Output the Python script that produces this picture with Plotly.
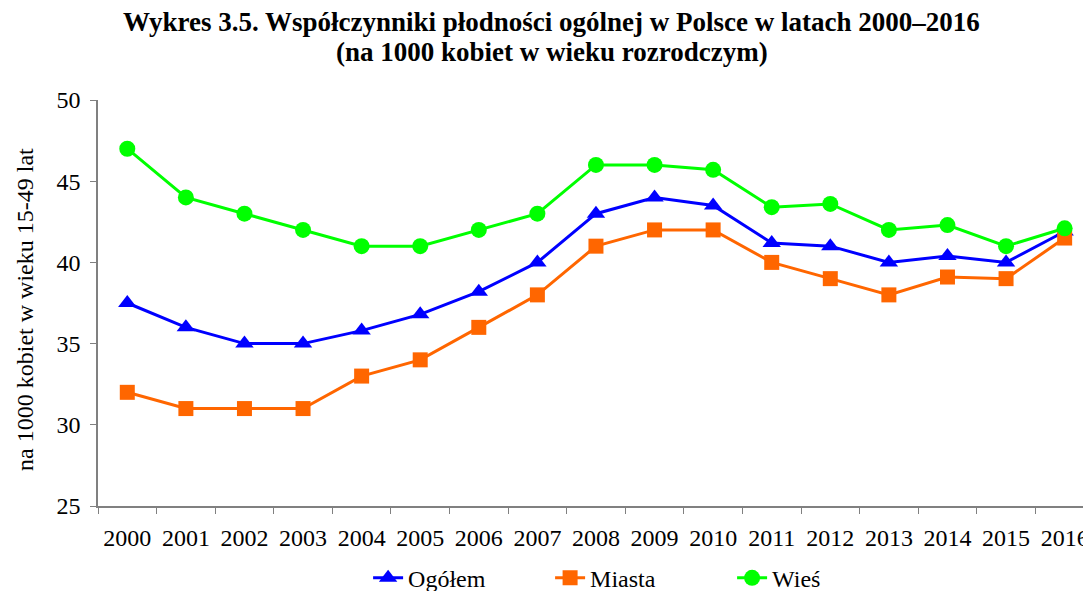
import plotly.graph_objects as go

# Dane
lata = [str(r) for r in range(2000, 2017)]
ogolem = [37.5, 36.0, 35.0, 35.0, 35.8, 36.8, 38.2, 40.0, 43.0, 44.0, 43.5, 41.2, 41.0, 40.0, 40.4, 40.0, 41.9]
miasta = [32.0, 31.0, 31.0, 31.0, 33.0, 34.0, 36.0, 38.0, 41.0, 42.0, 42.0, 40.0, 39.0, 38.0, 39.1, 39.0, 41.5]
wies = [47.0, 44.0, 43.0, 42.0, 41.0, 41.0, 42.0, 43.0, 46.0, 46.0, 45.7, 43.4, 43.6, 42.0, 42.3, 41.0, 42.1]

FONT = "Liberation Serif, Times New Roman, serif"

fig = go.Figure()
serie = [
    ("Ogółem", ogolem, "#0000FF", "triangle-up", 16),
    ("Miasta", miasta, "#FF6600", "square", 15),
    ("Wieś", wies, "#00FF00", "circle", 16),
]
for nazwa, wartosci, kolor, symbol, rozmiar in serie:
    fig.add_trace(go.Scatter(
        x=lata, y=wartosci, name=nazwa, mode="lines+markers",
        line=dict(color=kolor, width=3),
        marker=dict(color=kolor, symbol=symbol, size=rozmiar),
    ))

# strona ma 8px marginesu body, więc figura jest o 8px mniejsza
fig.update_layout(
    width=1083, height=583,
    margin=dict(l=90, r=0, t=92, b=85, autoexpand=False),
    paper_bgcolor="white", plot_bgcolor="white",
    font=dict(family=FONT, size=24, color="black"),
    showlegend=True,
    legend=dict(
        orientation="h", x=0.272, xanchor="left", y=-0.178, yanchor="middle",
        font=dict(family=FONT, size=24), entrywidth=137,
    ),
    xaxis=dict(
        type="category", range=[-0.5, 16.45], tickson="boundaries",
        ticks="outside", ticklen=6, tickcolor="#808080",
        showline=True, linecolor="#808080", linewidth=1.5,
        showgrid=False, zeroline=False, ticklabelstandoff=9,
        tickfont=dict(family=FONT, size=24),
    ),
    yaxis=dict(
        range=[25, 50], tickvals=[25, 30, 35, 40, 45, 50],
        ticks="outside", ticklen=6, tickcolor="#808080",
        showline=True, linecolor="#808080", linewidth=1.5,
        showgrid=False, zeroline=False, ticklabelstandoff=5,
        tickfont=dict(family=FONT, size=24),
    ),
)

# tytuł i opis osi jako adnotacje (dokładniejsze położenie)
fig.add_annotation(
    text="<b>Wykres 3.5. Współczynniki płodności ogólnej w Polsce w latach 2000–2016</b>",
    xref="paper", yref="paper", x=0.457, y=(498 - 14) / 406,
    xanchor="center", yanchor="middle", showarrow=False,
    font=dict(family=FONT, size=27),
)
fig.add_annotation(
    text="<b>(na 1000 kobiet w wieku rozrodczym)</b>",
    xref="paper", yref="paper", x=0.457, y=(498 - 44) / 406,
    xanchor="center", yanchor="middle", showarrow=False,
    font=dict(family=FONT, size=27),
)
fig.add_annotation(
    text="na 1000 kobiet w wieku 15-49 lat",
    xref="paper", yref="paper", x=-73 / 993, y=0.483,
    xanchor="center", yanchor="middle", textangle=-90, showarrow=False,
    font=dict(family=FONT, size=24),
)

fig.write_html("out.html")
